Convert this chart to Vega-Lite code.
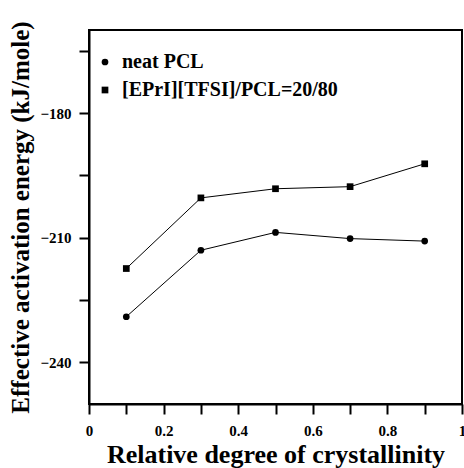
{
  "$schema": "https://vega.github.io/schema/vega-lite/v6.json",
  "width": 373,
  "height": 374,
  "autosize": "none",
  "padding": {"left": 89, "top": 30, "right": 2, "bottom": 64},
  "background": "white",
  "config": {
    "font": "Times New Roman",
    "view": {"stroke": "black", "strokeWidth": 2},
    "style": {
      "guide-label": {"font": "Times New Roman", "fontWeight": "bold", "fill": "black"},
      "guide-title": {"font": "Times New Roman", "fontWeight": "bold", "fill": "black"}
    },
    "axis": {
      "domainColor": "black",
      "domainWidth": 2,
      "tickColor": "black",
      "tickWidth": 2,
      "grid": false,
      "labelFontSize": 15
    }
  },
  "data": {
    "values": [
      {"crystallinity": 0.1, "energy": -229.0, "series": "neat PCL"},
      {"crystallinity": 0.3, "energy": -213.0, "series": "neat PCL"},
      {"crystallinity": 0.5, "energy": -208.7, "series": "neat PCL"},
      {"crystallinity": 0.7, "energy": -210.2, "series": "neat PCL"},
      {"crystallinity": 0.9, "energy": -210.8, "series": "neat PCL"},
      {"crystallinity": 0.1, "energy": -217.4, "series": "[EPrI][TFSI]/PCL=20/80"},
      {"crystallinity": 0.3, "energy": -200.4, "series": "[EPrI][TFSI]/PCL=20/80"},
      {"crystallinity": 0.5, "energy": -198.2, "series": "[EPrI][TFSI]/PCL=20/80"},
      {"crystallinity": 0.7, "energy": -197.7, "series": "[EPrI][TFSI]/PCL=20/80"},
      {"crystallinity": 0.9, "energy": -192.2, "series": "[EPrI][TFSI]/PCL=20/80"}
    ]
  },
  "encoding": {
    "x": {
      "field": "crystallinity",
      "type": "quantitative",
      "scale": {"domain": [0, 1], "nice": false, "zero": false},
      "axis": {
        "title": "Relative degree of crystallinity",
        "titleFontSize": 26,
        "titlePadding": 3,
        "values": [0, 0.1, 0.2, 0.3, 0.4, 0.5, 0.6, 0.7, 0.8, 0.9, 1],
        "labelExpr": "round(datum.value * 10) % 2 == 0 ? format(datum.value, '~g') : ''",
        "tickSize": 10,
        "labelPadding": 9,
        "labelFlush": false
      }
    },
    "y": {
      "field": "energy",
      "type": "quantitative",
      "scale": {"domain": [-250, -160], "nice": false, "zero": false},
      "axis": {
        "title": "Effective activation energy (kJ/mole)",
        "titleFontSize": 25,
        "titlePadding": 6,
        "values": [-240, -225, -210, -195, -180, -165],
        "labelExpr": "datum.value % 30 == 0 ? datum.label : ''",
        "tickSize": 10,
        "labelPadding": 8
      }
    }
  },
  "layer": [
    {
      "mark": {"type": "line", "color": "black", "strokeWidth": 1},
      "encoding": {"detail": {"field": "series"}}
    },
    {
      "mark": {"type": "point", "filled": true, "color": "black", "opacity": 1, "size": 45},
      "encoding": {
        "shape": {
          "field": "series",
          "type": "nominal",
          "scale": {"domain": ["neat PCL", "[EPrI][TFSI]/PCL=20/80"], "range": ["circle", "square"]},
          "legend": {
            "title": null,
            "orient": "none",
            "legendX": 6,
            "legendY": 22,
            "padding": 0,
            "labelFont": "Times New Roman",
            "labelFontSize": 20,
            "labelFontWeight": "bold",
            "labelColor": "black",
            "labelLimit": 0,
            "labelOffset": 7,
            "rowPadding": 8,
            "symbolSize": 45,
            "symbolFillColor": "black",
            "symbolStrokeColor": "black",
            "symbolType": "circle"
          }
        }
      }
    }
  ]
}
